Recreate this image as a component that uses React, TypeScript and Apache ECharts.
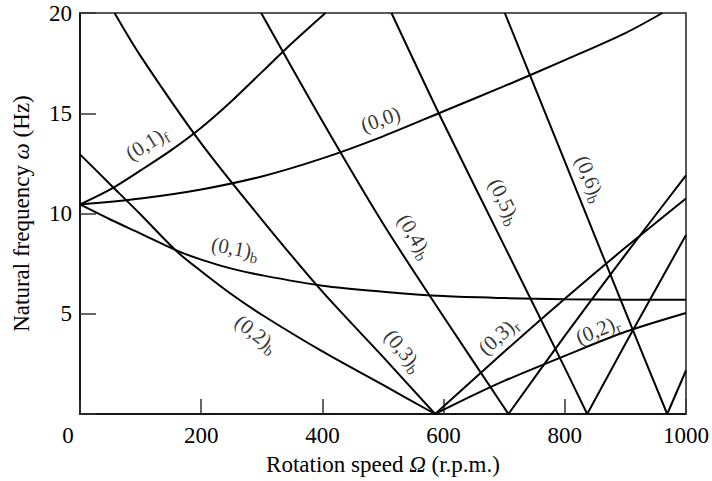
import { useEffect, useRef } from 'react';
import * as echarts from 'echarts';

// ---- data (Rotation speed in r.p.m., frequency in Hz) ----
const xTicks = [0, 200, 400, 600, 800, 1000];
const yTicks = [5, 10, 15, 20];

const mode00 = [[0, 10.45], [100, 10.75], [200, 11.2], [300, 11.85], [400, 12.75], [500, 13.85], [600, 15.1], [700, 16.35], [800, 17.65], [900, 19.0], [961, 20]];
const mode01f = [[0, 10.45], [50, 11.2], [100, 12.15], [150, 13.15], [200, 14.28], [250, 15.6], [300, 17.05], [350, 18.5], [405, 20]];
const mode01b = [[0, 10.45], [50, 9.7], [100, 9.0], [160, 8.15], [200, 7.7], [250, 7.25], [300, 6.92], [400, 6.4], [500, 6.1], [600, 5.88], [700, 5.78], [800, 5.72], [900, 5.7], [1000, 5.7]];
const mode02b = [[0, 12.95], [50, 11.45], [100, 9.95], [160, 8.1], [200, 7.12], [250, 5.97], [300, 4.95], [400, 3.12], [500, 1.45], [586, 0]];
const mode03b = [[57, 20], [100, 17.85], [200, 13.5], [300, 9.7], [400, 6.1], [500, 2.85], [586, 0]];
const mode04b = [[299, 20], [400, 14.6], [500, 9.5], [600, 4.85], [707, 0]];
const mode05b = [[514, 20], [600, 14.5], [700, 8.4], [800, 2.3], [837, 0]];
const mode06b = [[701, 20], [800, 12.6], [900, 5.1], [969, 0]];
const mode02r = [[586, 0], [650, 0.95], [700, 1.65], [800, 2.9], [900, 4.1], [1000, 5.04]];
const mode03r = [[586, 0], [700, 3.1], [800, 5.75], [900, 8.3], [1000, 10.75]];
const mode04r = [[707, 0], [800, 3.9], [900, 7.95], [1000, 11.9]];
const mode05r = [[837, 0], [900, 3.5], [1000, 8.93]];
const mode06r = [[969, 0], [1000, 2.17]];

const curves = [mode00, mode01f, mode01b, mode02b, mode03b, mode04b, mode05b, mode06b, mode02r, mode03r, mode04r, mode05r, mode06r];

const labelMain = ['(0,1)', '(0,0)', '(0,1)', '(0,2)', '(0,3)', '(0,4)', '(0,5)', '(0,6)', '(0,3)', '(0,2)'];
const labelSub = ['f', '', 'b', 'b', 'b', 'b', 'b', 'b', 'r', 'r'];
const labelPos = [[110, 13.5], [496, 14.7], [256, 8.26], [291, 4.0], [534, 3.16], [553, 8.86], [701, 10.6], [842, 11.74], [690, 3.9], [854, 4.2]];
const labelAngle = [32, 19, -11, -38, -51, -59, -64, -68, 42, 22];

const SERIF = 'Liberation Serif';
const FS = 23;

export default function App() {
  const ref = useRef<HTMLDivElement>(null);

  useEffect(() => {
    if (!ref.current) return;
    const chart = echarts.init(ref.current, null, { renderer: 'svg' });

    const lineSeries = curves.map((d) => ({
      type: 'line',
      data: d,
      smooth: 0.3,
      symbol: 'none',
      silent: true,
      lineStyle: { color: '#000', width: 2 },
    }));

    const labelSeries = {
      type: 'scatter',
      symbolSize: 0,
      silent: true,
      data: labelMain.map((t, i) => ({
        value: labelPos[i],
        label: {
          show: true,
          position: 'inside',
          rotate: labelAngle[i],
          formatter: labelSub[i] ? `{m|${t}}{s|${labelSub[i]}}` : `{m|${t}}`,
        },
      })),
      label: {
        show: true,
        position: 'inside',
        rich: {
          m: { fontFamily: SERIF, fontSize: 21, color: '#000' },
          s: { fontFamily: SERIF, fontSize: 15, color: '#000', padding: [12, 0, 0, 0] },
        },
      },
    };

    const nameStyle = {
      fontFamily: SERIF, fontSize: FS, color: '#000',
      rich: { i: { fontFamily: SERIF, fontSize: FS, fontStyle: 'italic', color: '#000' } },
    };

    chart.setOption({
      animation: false,
      backgroundColor: '#fff',
      grid: { left: 80, right: 23, top: 13, bottom: 64, show: true, borderColor: '#222', borderWidth: 1.5, backgroundColor: 'transparent' },
      xAxis: {
        type: 'value',
        min: xTicks[0],
        max: xTicks[xTicks.length - 1],
        interval: 200,
        name: 'Rotation speed {i|Ω} (r.p.m.)',
        nameLocation: 'middle',
        nameGap: 39,
        nameTextStyle: nameStyle,
        axisLine: { lineStyle: { color: '#000', width: 1.5 } },
        axisTick: { inside: true, length: 15, lineStyle: { color: '#333', width: 1.5 } },
        splitLine: { show: false },
        axisLabel: {
          fontFamily: SERIF, fontSize: FS, color: '#000', margin: 10,
          formatter: (v: number) => (v === 0 ? '{z|0}' : String(v)),
          rich: { z: { fontFamily: SERIF, fontSize: FS, color: '#000', padding: [0, 24, 0, 0] } },
        },
      },
      yAxis: {
        type: 'value',
        min: 0,
        max: yTicks[yTicks.length - 1],
        interval: 5,
        name: 'Natural frequency {i|ω} (Hz)',
        nameLocation: 'middle',
        nameGap: 47,
        nameRotate: 90,
        nameTextStyle: nameStyle,
        axisLine: { lineStyle: { color: '#000', width: 1.5 } },
        axisTick: { inside: true, length: 16, lineStyle: { color: '#333', width: 1.5 } },
        splitLine: { show: false },
        axisLabel: {
          fontFamily: SERIF, fontSize: FS, color: '#000', margin: 8,
          formatter: (v: number) => (yTicks.includes(v) ? String(v) : ''),
        },
      },
      series: [...lineSeries, labelSeries],
    });

    return () => chart.dispose();
  }, []);

  return <div ref={ref} style={{ position: 'absolute', left: 0, top: 0, width: 712, height: 481 }} />;
}
